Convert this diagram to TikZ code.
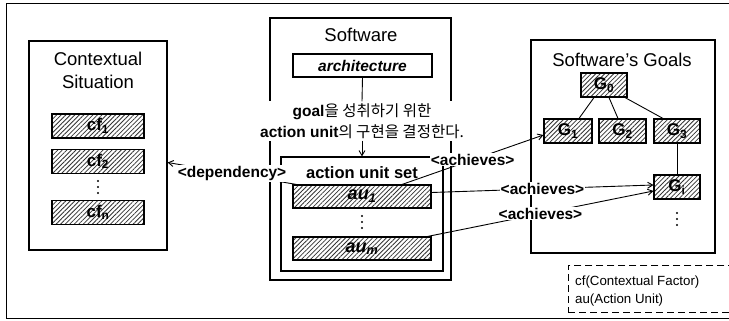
\documentclass[tikz,border=0pt]{standalone}
\usepackage{fontspec}
\setmainfont{Liberation Sans}
\newfontfamily\krfont{Noto Sans CJK KR}
\usetikzlibrary{patterns.meta,calc,arrows.meta}
\begin{document}
\begin{tikzpicture}[x=1pt,y=-1pt,
  box/.style={draw, line width=1.2pt, inner sep=0pt},
  hatch/.style={draw, line width=1.1pt, inner sep=0pt, preaction={fill=white},
    pattern={Lines[angle=45,distance=3.2pt,line width=0.8pt]}, pattern color=black!80,
    font=\bfseries\fontsize{17}{17}\selectfont},
  title/.style={align=center, inner sep=0pt, font=\fontsize{18.5}{23}\selectfont},
  lbl/.style={fill=white, inner sep=1pt, font=\bfseries\fontsize{15.5}{15.5}\selectfont},
  conn/.style={line width=0.9pt},
  arr/.style={conn, -{Straight Barb[length=5pt,width=6pt]}},
  dot/.style={circle, fill, inner sep=0pt, minimum size=2.2pt},
  legtext/.style={anchor=west, inner sep=0pt, font=\fontsize{13.3}{13.3}\selectfont}
]
\useasboundingbox (0,0) rectangle (729,321);
\clip (0,0) rectangle (729,321);

% outer frame (its right side lies beyond the picture's edge)
\node[draw, line width=1.2pt, minimum width=730, minimum height=315, anchor=north west] (frame) at (6,3) {};

% Contextual situation
\node[box, minimum width=138, minimum height=209] (ctx) at (98,145.5) {};
\node[title] (ctxt) at (98,70.5) {Contextual\\Situation};
\node[hatch, minimum width=92, minimum height=24] (cf1) at (98,126) {cf\textsubscript{1}};
\node[hatch, minimum width=92, minimum height=24] (cf2) at (98,161.5) {cf\textsubscript{2}};
\node[hatch, minimum width=92, minimum height=24] (cfn) at (98,212.5) {cf\textsubscript{n}};
\foreach \yy in {181,187,193} \node[dot] at (98,\yy) {};

% Software
\node[box, minimum width=181, minimum height=262] (sw) at (360.5,149) {};
\node[title] (swt) at (361,35) {Software};
\node[box, minimum width=139, minimum height=23, font=\bfseries\itshape\fontsize{15.5}{15.5}\selectfont] (arch) at (362.5,65.5) {architecture};
\node[box, minimum width=162, minimum height=114] (auset) at (362,214) {};
\node[inner sep=0pt, font=\bfseries\fontsize{16.5}{16.5}\selectfont] (ausett) at (362,173) {action unit set};
\node[hatch, minimum width=138, minimum height=23, font=\bfseries\itshape\fontsize{18}{18}\selectfont] (au1) at (362,196.5) {au\textsubscript{1}};
\foreach \yy in {216,222,228} \node[dot] at (362,\yy) {};
\node[hatch, minimum width=138, minimum height=23, font=\bfseries\itshape\fontsize{18}{18}\selectfont] (aum) at (362,248.5) {au\textsubscript{m}};
\node[fill=white, inner sep=2pt, align=center, font=\fontsize{15.5}{21}\selectfont] (decide) at (362,121) {\textbf{goal}{\krfont 을 성취하기 위한}\\\textbf{action unit}{\krfont 의 구현을 결정한다.}};
\draw[conn] (arch.south) -- (decide.north);
\draw[arr] (decide.south) -- (auset.north);

% Goals
\node[box, minimum width=184, minimum height=213] (goals) at (623,146.5) {};
\node[title] (goalst) at (622,60) {Software's Goals};
\node[hatch, minimum width=46, minimum height=24] (g0) at (604,85) {G\textsubscript{0}};
\node[hatch, minimum width=48, minimum height=24] (g1) at (568,131) {G\textsubscript{1}};
\node[hatch, minimum width=47, minimum height=24] (g2) at (622.5,131) {G\textsubscript{2}};
\node[hatch, minimum width=46, minimum height=24] (g3) at (677,131) {G\textsubscript{3}};
\node[hatch, minimum width=46, minimum height=24] (gi) at (677,187) {G\textsubscript{i}};
\foreach \yy in {213,219,225} \node[dot] at (677,\yy) {};
\draw[conn] ($(g0.south)+(-10,0)$) -- ($(g1.north)+(11,0)$);
\draw[conn] ($(g0.south)+(5,0)$) -- ($(g2.north)+(-4.5,0)$);
\draw[conn] ($(g0.south)+(21,0)$) -- ($(g3.north)+(-14,0)$);
\draw[conn] (g3) -- (gi);

% connectors
\draw[arr] ($(au1.north west)+(4,0)$) -- node[lbl]{<dependency>} ($(ctx.east)+(0,17)$);
\draw[arr] ($(au1.north)+(40,0)$) -- node[lbl]{<achieves>} ($(g1.west)+(0,4)$);
\draw[arr] ($(au1.east)+(0,-4)$) -- node[lbl]{<achieves>} ($(gi.west)+(0,-2)$);
\draw[arr] ($(aum.north east)+(-4,0)$) -- node[lbl]{<achieves>} ($(gi.west)+(0,4)$);

% legend
\node[draw, line width=0.9pt, dash pattern=on 7pt off 4pt, minimum width=170, minimum height=47, anchor=north west] (legend) at (568,265) {};
\node[legtext] (leg1) at (575,282) {cf(Contextual Factor)};
\node[legtext] (leg2) at (575,300) {au(Action Unit)};
\end{tikzpicture}
\end{document}
